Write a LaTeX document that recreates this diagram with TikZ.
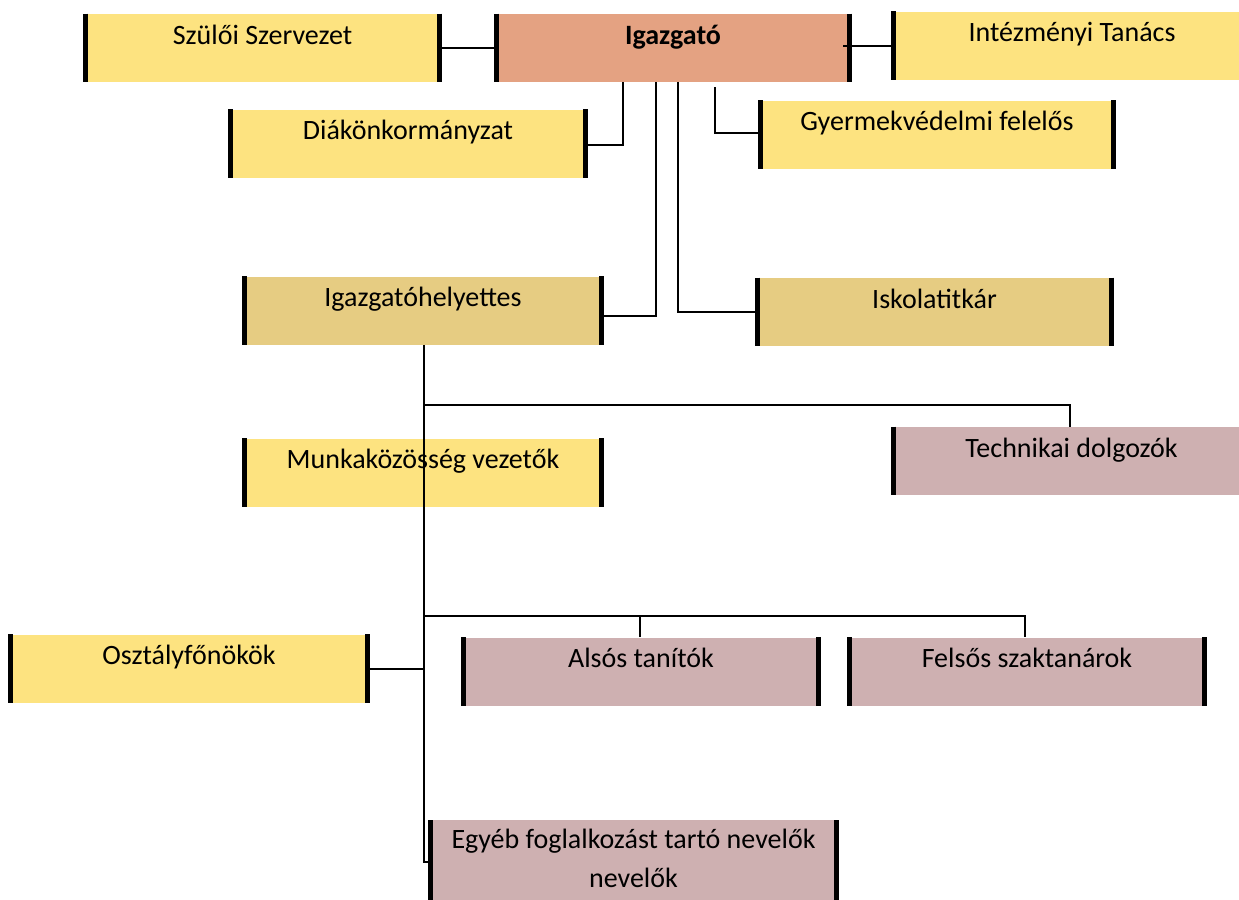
\documentclass[tikz,border=0pt]{standalone}
\usepackage{fontspec}
\setmainfont{Carlito}
\definecolor{cyel}{HTML}{FDE380}
\definecolor{csal}{HTML}{E4A282}
\definecolor{ctan}{HTML}{E6CC82}
\definecolor{cpink}{HTML}{CEB0B1}
\tikzset{
  box/.style={fill=#1, inner sep=0pt, minimum height=34pt, text height=15pt, text depth=19pt,
    font=\fontsize{14}{17}\selectfont},
  w356/.style={minimum width=178pt},
  conn/.style={line width=1pt, black},
  bar/.style={line width=2.6pt, black},
}
\begin{document}
\begin{tikzpicture}[x=0.5pt,y=-0.5pt]
\useasboundingbox (0,0) rectangle (1239,900);
\clip (0,0) rectangle (1239,900);
% boxes
\node[box=cyel, minimum width=176.5pt] (szs) at (262.5,48) {Szülői Szervezet};
\node[box=csal, minimum width=176pt, font=\fontsize{14}{17}\selectfont\bfseries] (igaz) at (673,48) {Igazgató};
\node[box=cyel, w356] (int) at (1072,45.5) {Intézményi Tanács};
\node[box=cyel, minimum width=177pt] (diak) at (408,143.5) {Diákönkormányzat};
\node[box=cyel, minimum width=176pt] (gyer) at (937,134.5) {Gyermekvédelmi felelős};
\node[box=ctan, w356] (ighely) at (423,310.5) {Igazgatóhelyettes};
\node[box=ctan, minimum width=176.5pt] (isk) at (934.5,312) {Iskolatitkár};
\node[box=cpink, w356] (tech) at (1071.5,461) {Technikai dolgozók};
\node[box=cyel, w356] (munk) at (423,472.5) {Munkaközösség vezetők};
\node[box=cyel, w356] (oszt) at (189,668.5) {Osztályfőnökök};
\node[box=cpink, minimum width=177pt] (also) at (641,671.5) {Alsós tanítók};
\node[box=cpink, minimum width=177pt] (fels) at (1027,671.5) {Felsős szaktanárok};
\node[fill=cpink, inner sep=0pt, minimum width=202.5pt, minimum height=50pt, anchor=north] (egyeb) at (633.5,820) {};
\node[inner sep=0pt, anchor=base, align=center, font=\fontsize{14}{19.5}\selectfont] (egyebtxt) at ([yshift=-33.5pt]egyeb.north) {Egyéb foglalkozást tartó nevelők\\nevelők};
% bars
\foreach \n in {szs,igaz,int,diak,gyer,ighely,isk,tech,munk,oszt,also,fels,egyeb}
  \draw[bar] (\n.north west) -- (\n.south west);
\foreach \n in {szs,igaz,diak,gyer,ighely,isk,munk,oszt,also,fels,egyeb}
  \draw[bar] (\n.north east) -- (\n.south east);
% connectors
\coordinate (b1) at (0,405);
\coordinate (b2) at (0,616);
\coordinate (bot) at (0,862);
\draw[conn] (szs.east) -- (igaz.west);
\draw[conn] ([xshift=-3pt]igaz.east |- int.west) -- (int.west);
\draw[conn] ([xshift=63pt]igaz.south west) |- ([yshift=-0.75pt]diak.east);
\draw[conn] ([xshift=79.5pt]igaz.south west) |- ([yshift=-2.75pt]ighely.east);
\draw[conn] ([xshift=90.5pt]igaz.south west) |- (isk.west);
\draw[conn] ([xshift=109pt,yshift=-2.5pt]igaz.south west) |- ([yshift=0.75pt]gyer.west);
\draw[conn] ([xshift=0.5pt]ighely.south) -- ([xshift=0.5pt]ighely.south |- bot) -- (egyeb.west |- bot);
\draw[conn] ([xshift=0.5pt]ighely.south |- b1) -| ([xshift=-0.75pt]tech.north);
\draw[conn] ([xshift=0.5pt]ighely.south |- b2) -| ([xshift=-1pt]fels.north);
\draw[conn] ([xshift=-0.5pt]also.north) -- ([xshift=-0.5pt]also.north |- b2);
\draw[conn] (oszt.east) -- ([xshift=0.5pt]oszt.east -| ighely.south);
\end{tikzpicture}
\end{document}
